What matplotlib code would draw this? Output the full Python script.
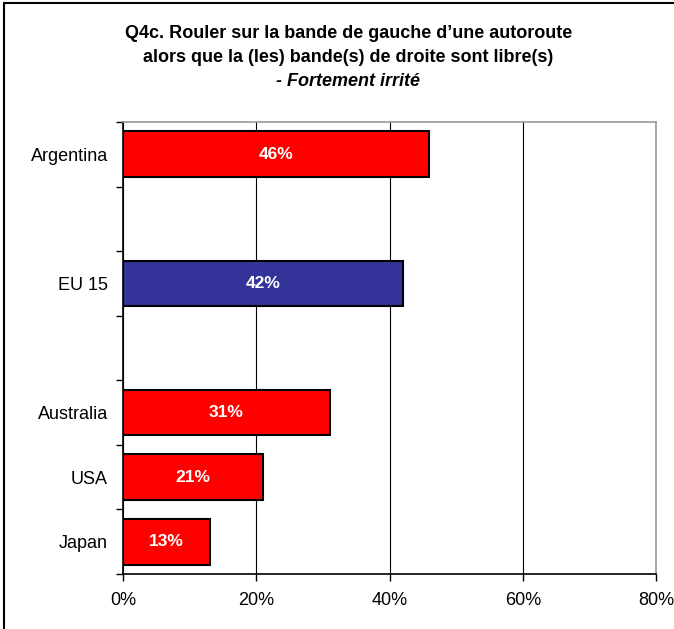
import numpy as np
import matplotlib.pyplot as plt
from matplotlib.patches import Rectangle

plt.rcParams['font.family'] = ['Liberation Sans', 'DejaVu Sans']

# empty strings are the blank rows of the original chart
categories = ["Argentina", "", "EU 15", "", "Australia", "USA", "Japan"]
values = [46, None, 42, None, 31, 21, 13]
highlight = "EU 15"
xticks = [0, 20, 40, 60, 80]

fig = plt.figure(figsize=(6.74, 6.29), dpi=100)
ax = fig.add_axes([123/674, 1-574/629, (656-123)/674, (574-122)/629])

for i, (cat, v) in enumerate(zip(categories, values)):
    if v is None:
        continue
    col = "#333399" if cat == highlight else "#FF0000"
    ax.barh(i, v, height=0.71, color=col, edgecolor="black", linewidth=1.5, zorder=3)
    ax.text(v/2, i, "%d%%" % v, color="white", fontsize=12.5, fontweight="bold",
            ha="center", va="center", zorder=4)

ax.set_ylim(len(categories)-0.5, -0.5)
ax.set_xlim(0, 80)
ax.set_yticks(np.arange(len(categories)))
ax.set_yticklabels(categories, fontsize=13)
ax.set_yticks(np.arange(len(categories)+1)-0.5, minor=True)
ax.tick_params(axis="y", which="major", length=0, pad=11)
ax.tick_params(axis="y", which="minor", length=5, width=1, direction="out")
ax.set_xticks(xticks)
ax.set_xticklabels(["%d%%" % t for t in xticks], fontsize=13)
ax.tick_params(axis="x", length=5, width=1, direction="out", pad=8)
ax.xaxis.grid(True, color="black", linewidth=0.8, zorder=0)

ax.spines["left"].set_color("black")
ax.spines["bottom"].set_color("black")
ax.spines["top"].set_color("#999999")
ax.spines["right"].set_color("#999999")
for s in ax.spines.values():
    s.set_linewidth(1.2)

fig.text(0.517, 1-33/629, "Q4c. Rouler sur la bande de gauche d\u2019une autoroute",
         ha="center", va="center", fontsize=13, fontweight="bold")
fig.text(0.517, 1-57/629, "alors que la (les) bande(s) de droite sont libre(s)",
         ha="center", va="center", fontsize=13, fontweight="bold")
fig.text(0.517, 1-81/629, "- Fortement irrit\u00e9",
         ha="center", va="center", fontsize=13, fontweight="bold", style="italic")

fig.patches.append(Rectangle((4/674, -0.01), 1.0, 1-3/629+0.01, transform=fig.transFigure,
                             fill=False, edgecolor="black", linewidth=1.5))

fig.savefig("out.png", dpi=100)
